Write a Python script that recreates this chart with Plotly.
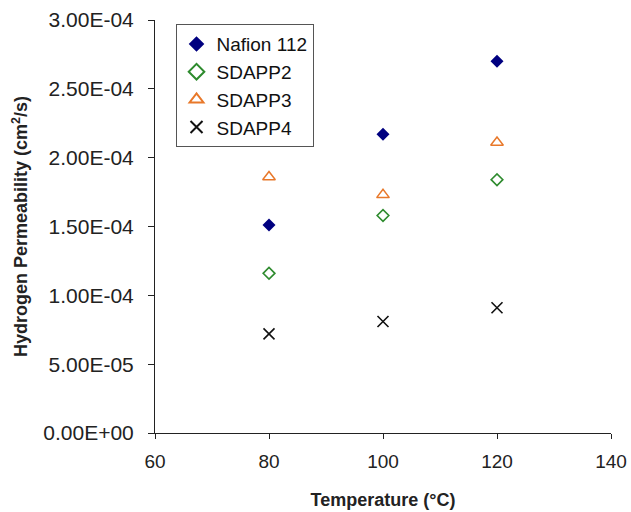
import plotly.graph_objects as go

temps = [80, 100, 120]
series_names = ["Nafion 112", "SDAPP2", "SDAPP3", "SDAPP4"]
nafion112 = [1.51e-4, 2.17e-4, 2.70e-4]
sdapp2 = [1.16e-4, 1.58e-4, 1.84e-4]
sdapp3 = [1.86e-4, 1.73e-4, 2.11e-4]
sdapp4 = [0.72e-4, 0.81e-4, 0.91e-4]
y_tickvals = [0, 5e-5, 1e-4, 1.5e-4, 2e-4, 2.5e-4, 3e-4]
y_ticktext = ["0.00E+00", "5.00E-05", "1.00E-04", "1.50E-04", "2.00E-04", "2.50E-04", "3.00E-04"]
x_tickvals = [60, 80, 100, 120, 140]

styles = [
    dict(symbol="diamond", size=10, color="#000080", line=dict(width=0)),
    dict(symbol="diamond-open", size=9, color="#2E8B2E", line=dict(width=1.6, color="#2E8B2E")),
    dict(symbol="triangle-up-open", size=11, color="#E8782A", line=dict(width=1.5, color="#E8782A")),
    dict(symbol="x-thin-open", size=11, color="#111111", line=dict(width=1.6, color="#111111")),
]

fig = go.Figure()
for name, vals, st in zip(series_names, [nafion112, sdapp2, sdapp3, sdapp4], styles):
    fig.add_trace(go.Scatter(x=temps, y=vals, mode="markers", name=name, marker=st))

fig.update_layout(
    width=631, height=512,
    margin=dict(l=155, r=20, t=20, b=79),
    plot_bgcolor="white", paper_bgcolor="white",
    font=dict(family="Liberation Sans, Arial, sans-serif", color="#222222"),
    showlegend=True,
    legend=dict(x=0.045, y=0.99, xanchor="left", yanchor="top",
                bordercolor="#555555", borderwidth=1, bgcolor="white",
                font=dict(size=19, color="#111111"), tracegroupgap=0,
                itemwidth=30, itemsizing="constant"),
)
fig.update_xaxes(range=[60, 140], tickvals=x_tickvals, showgrid=False, zeroline=False, automargin=False,
                 showline=True, linecolor="#222222", linewidth=1, ticks="outside", ticklen=5,
                 tickcolor="#222222", tickfont=dict(size=19), ticklabelstandoff=6,
                 title=dict(text="<b>Temperature (°C)</b>", font=dict(size=18), standoff=22))
fig.update_yaxes(range=[0, 3e-4], tickvals=y_tickvals, ticktext=y_ticktext, showgrid=False, zeroline=False, automargin=False,
                 showline=True, linecolor="#222222", linewidth=1, ticks="outside", ticklen=6,
                 tickcolor="#222222", tickfont=dict(size=21), ticklabelstandoff=10,
                 title=dict(text="<b>Hydrogen Permeability (cm<sup>2</sup>/s)</b>", font=dict(size=18), standoff=10))

fig.write_html("out.html")
